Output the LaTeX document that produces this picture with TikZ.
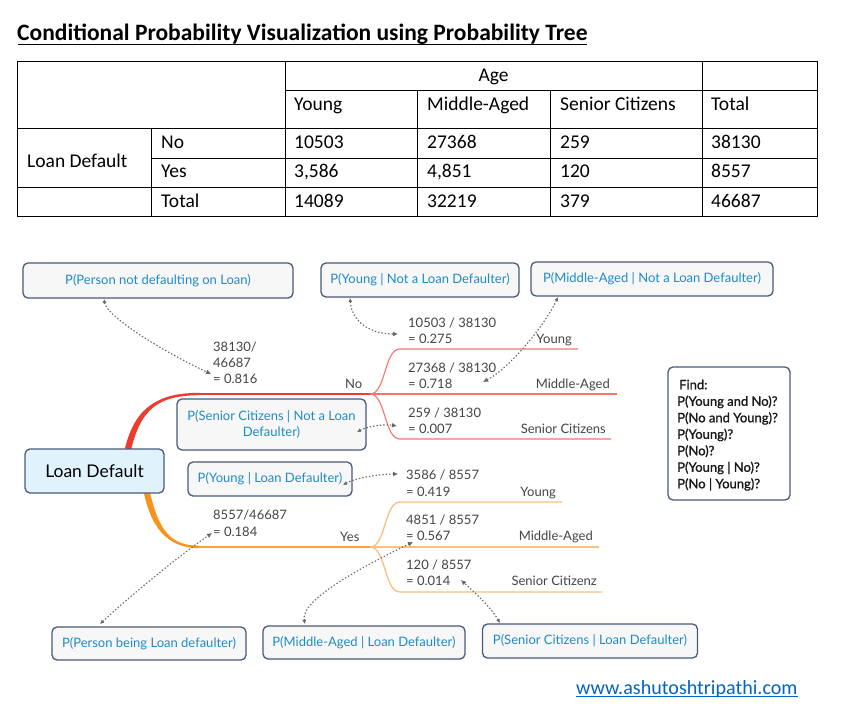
\documentclass[tikz,border=0pt]{standalone}
\usepackage{fontspec}
\setmainfont{Carlito}
\newfontfamily\xmfont{Lato}
\newfontfamily\xmfindfont[FakeBold=1.2]{Lato}
\usetikzlibrary{arrows.meta}
\definecolor{boxborder}{HTML}{4A5A7A}
\definecolor{boxfill}{HTML}{F7F7F7}
\definecolor{boxtext}{HTML}{1E8BC8}
\definecolor{ldfill}{HTML}{E0F3FD}
\definecolor{numgray}{HTML}{444444}
\definecolor{redmain}{HTML}{EE3B2E}
\definecolor{redsub}{HTML}{F4766C}
\definecolor{orgmain}{HTML}{F7941D}
\definecolor{orgsub}{HTML}{FBC080}
\definecolor{relgray}{HTML}{666666}
\definecolor{urlblue}{HTML}{0563C1}
\tikzset{
  tline/.style={draw=black, line width=0.9pt},
  tcell/.style={anchor=base west, inner sep=0pt, font=\fontsize{19.5}{23}\selectfont},
  box/.style={draw=boxborder, line width=1.3pt, fill=boxfill, rounded corners=5pt,
    text=boxtext, font=\xmfont\fontsize{13}{16}\selectfont, inner sep=0pt, align=center},
  num/.style={anchor=base west, inner sep=0pt, text=numgray, font=\xmfont\fontsize{13}{16}\selectfont},
  lbl/.style={anchor=base east, inner sep=0pt, text=numgray, font=\xmfont\fontsize{13}{16}\selectfont},
  rel/.style={draw=relgray, line width=1.1pt, dash pattern=on 1.4pt off 2pt,
    {Latex[length=4pt,width=4pt]}-{Latex[length=5pt,width=5pt]}},
  redbranch/.style={draw=redsub, line width=1.1pt},
  orgbranch/.style={draw=orgsub, line width=1.3pt},
}
\begin{document}
\begin{tikzpicture}[x=1pt,y=-1pt]
\useasboundingbox[fill=white] (0,0) rectangle (845,715);

% ---------- title ----------
\node[anchor=base west, inner sep=0pt, font=\bfseries\fontsize{23.5}{28}\selectfont] (title) at (17,40)
  {Conditional Probability Visualization using Probability Tree};
\draw[line width=1.8pt] (18,44.5) -- (587,44.5);

% ---------- table ----------
\draw[tline] (17,61) rectangle (817,216);
\draw[tline] (285,90) -- (817,90);
\draw[tline] (17,128) -- (817,128);
\draw[tline] (151,158) -- (817,158);
\draw[tline] (17,187) -- (817,187);
\draw[tline] (285,61) -- (285,216);
\draw[tline] (702,61) -- (702,216);
\draw[tline] (417,90) -- (417,216);
\draw[tline] (550,90) -- (550,216);
\draw[tline] (151,128) -- (151,216);

\node[tcell, anchor=base] (tage) at (493.5,81) {Age};
\node[tcell] (th1) at (294,110) {Young};
\node[tcell] (th2) at (427,110) {Middle-Aged};
\node[tcell] (th3) at (560,110) {Senior Citizens};
\node[tcell] (th4) at (711,110) {Total};
\node[tcell] (tld) at (27,167) {Loan Default};
\node[tcell] (tr1) at (161,148) {No};
\node[tcell] (tr2) at (161,177) {Yes};
\node[tcell] (tr3) at (161,207) {Total};
\node[tcell] (c11) at (294,148) {10503};
\node[tcell] (c12) at (427,148) {27368};
\node[tcell] (c13) at (560,148) {259};
\node[tcell] (c14) at (711,148) {38130};
\node[tcell] (c21) at (294,177) {3,586};
\node[tcell] (c22) at (427,177) {4,851};
\node[tcell] (c23) at (560,177) {120};
\node[tcell] (c24) at (711,177) {8557};
\node[tcell] (c31) at (294,207) {14089};
\node[tcell] (c32) at (427,207) {32219};
\node[tcell] (c33) at (560,207) {379};
\node[tcell] (c34) at (711,207) {46687};

% ---------- tree branches ----------
\fill[redmain] (125,448.3) .. controls (135,407.2) and (158,392.8) .. (200,392.8)
  -- (200,395.2) .. controls (158,395.2) and (141,408.8) .. (131,449.8) -- cycle;
\draw[draw=redmain, line width=2pt] (199,394) -- (371,394);
\coordinate (forkno) at (370,394);
\draw[redbranch] (forkno) .. controls (386,394) and (384,349) .. (400,349) -- (578,349);
\draw[redbranch] (forkno) -- (617,394);
\draw[redbranch] (forkno) .. controls (386,394) and (384,439) .. (400,439) -- (611,439);

\fill[orgmain] (144,493.7) .. controls (153,533.8) and (172,548.2) .. (200,548.2)
  -- (200,545.8) .. controls (172,545.8) and (159,532.2) .. (150,492.3) -- cycle;
\draw[draw=orgmain!85!white, line width=2pt] (199,547) -- (371,547);
\coordinate (forkyes) at (370,547);
\draw[orgbranch] (forkyes) .. controls (386,547) and (384,502) .. (400,502) -- (562,502);
\draw[orgbranch] (forkyes) -- (599,547);
\draw[orgbranch] (forkyes) .. controls (386,547) and (384,592) .. (400,592) -- (602,592);

% ---------- branch labels ----------
\node[num] (no) at (345,388) {No};
\node[num] (yes) at (340,541) {Yes};
\node[num] (pn1) at (213,351) {38130/};
\node[num] (pn2) at (213,367) {46687};
\node[num] (pn3) at (213,383) {= 0.816};
\node[num] (py1) at (213,519) {8557/46687};
\node[num] (py2) at (213,536) {= 0.184};

\node[num] (a1) at (408,327) {10503 / 38130};
\node[num] (a2) at (408,343) {= 0.275};
\node[lbl] (la) at (572,343) {Young};
\node[num] (b1) at (408,372) {27368 / 38130};
\node[num] (b2) at (408,388) {= 0.718};
\node[lbl] (lb) at (610,388) {Middle-Aged};
\node[num] (c1) at (408,417) {259 / 38130};
\node[num] (c2) at (408,433) {= 0.007};
\node[lbl] (lc) at (606,433) {Senior Citizens};

\node[num] (d1) at (406,479) {3586 / 8557};
\node[num] (d2) at (406,496) {= 0.419};
\node[lbl] (ld) at (556,496) {Young};
\node[num] (e1) at (406,524) {4851 / 8557};
\node[num] (e2) at (406,540) {= 0.567};
\node[lbl] (le) at (593,540) {Middle-Aged};
\node[num] (f1) at (406,569) {120 / 8557};
\node[num] (f2) at (406,585) {= 0.014};
\node[lbl] (lf) at (597,585) {Senior Citizenz};

% ---------- boxes ----------
\node[box, minimum width=270pt, minimum height=35pt] (B1) at (158,280.5) {P(Person not defaulting on Loan)};
\node[box, minimum width=198pt, minimum height=34pt] (B2) at (420,280) {P(Young | Not a Loan Defaulter)};
\node[box, minimum width=242pt, minimum height=34pt] (B3) at (652,279) {P(Middle-Aged | Not a Loan Defaulter)};
\node[box, minimum width=189pt, minimum height=51pt] (B4) at (271.5,424.5) {P(Senior Citizens | Not a Loan\\Defaulter)};
\node[box, fill=ldfill, text=black, font=\xmfont\fontsize{17.5}{20}\selectfont,
  minimum width=139pt, minimum height=44pt] (LD) at (94.5,471) {Loan Default};
\node[box, minimum width=164pt, minimum height=34pt] (B5) at (270,479) {P(Young | Loan Defaulter)};
\node[box, minimum width=194pt, minimum height=33pt] (B6) at (149,643.5) {P(Person being Loan defaulter)};
\node[box, minimum width=202pt, minimum height=33pt] (B7) at (364,642.5) {P(Middle-Aged | Loan Defaulter)};
\node[box, minimum width=215pt, minimum height=34pt] (B8) at (590,641) {P(Senior Citizens | Loan Defaulter)};

\node[box, fill=white, minimum width=122pt, minimum height=133pt] (find) at (729,433.5) {};
\node[anchor=north west, inner sep=0pt, align=left, text=black!90,
  font=\xmfindfont\fontsize{13}{16.5}\selectfont] (findtxt) at (677,379.5)
  {\hspace*{2pt}Find:\\P(Young and No)?\\P(No and Young)?\\P(Young)?\\P(No)?\\P(Young | No)?\\P(No | Young)?};

% ---------- relationship connectors ----------
\coordinate (r1s) at (104,299);
\coordinate (r1e) at (211,374);
\draw[rel] (r1s) .. controls (106,314) and (150,345) .. (r1e);
\coordinate (r2s) at (350,298);
\coordinate (r2e) at (398,334);
\draw[rel] (r2s) .. controls (352,322) and (370,334) .. (r2e);
\coordinate (r3s) at (558,297);
\coordinate (r3e) at (483,382);
\draw[rel] (r3s) .. controls (545,325) and (510,368) .. (r3e);
\coordinate (r4s) at (357,432);
\coordinate (r4e) at (397,426);
\draw[rel] (r4s) .. controls (368,426) and (385,424) .. (r4e);
\coordinate (r5s) at (343,485);
\coordinate (r5e) at (398,474);
\draw[rel] (r5s) .. controls (355,478) and (380,474) .. (r5e);
\coordinate (r6s) at (100,624);
\coordinate (r6e) at (212,533);
\draw[rel] (r6s) .. controls (130,596) and (180,555) .. (r6e);
\coordinate (r7s) at (305,624);
\coordinate (r7e) at (413,542);
\draw[rel] (r7s) .. controls (300,600) and (360,568) .. (r7e);
\coordinate (r8s) at (500,623);
\coordinate (r8e) at (461,580);
\draw[rel] (r8s) .. controls (490,606) and (474,592) .. (r8e);

% ---------- url ----------
\node[anchor=base west, inner sep=0pt, text=urlblue, font=\fontsize{20.1}{23}\selectfont] (url) at (576,694) {www.ashutoshtripathi.com};
\draw[urlblue, line width=1pt] ([yshift=-2.5pt]url.base west) -- ([yshift=-2.5pt]url.base east);
\end{tikzpicture}
\end{document}
